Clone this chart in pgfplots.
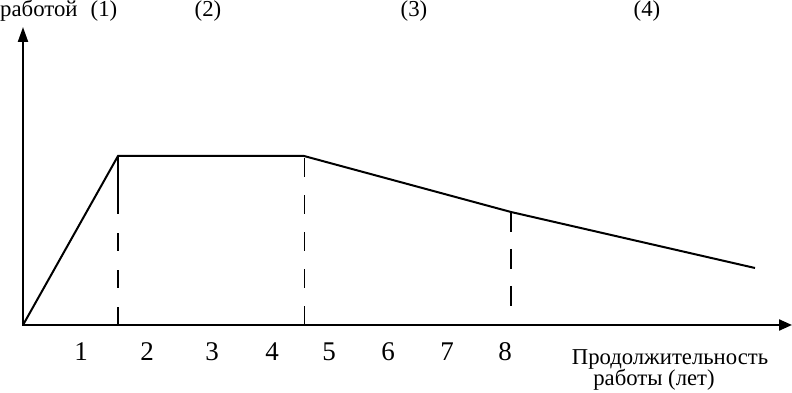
\documentclass[border=0pt]{standalone}
\usepackage{pgfplots}
\pgfplotsset{compat=1.18}
\usetikzlibrary{arrows.meta}
\usepackage{fontspec}
\setmainfont{Liberation Serif}
\begin{document}
\begin{tikzpicture}[x=1pt,y=1pt]
\useasboundingbox (0,0) rectangle (792,393);
\clip (0,0) rectangle (792,393);
\begin{axis}[
  at={(0pt,0pt)}, anchor=south west,
  width=792pt, height=393pt, scale only axis,
  xmin=0, xmax=792, ymin=0, ymax=393,
  axis lines=none, clip=false,
  every axis plot/.append style={black},
]
% axes
\addplot[line width=2.2pt, -{Triangle[length=13pt,width=11pt]}] coordinates {(22,68) (792,68)};
\addplot[line width=2.2pt, -{Triangle[length=15pt,width=10pt]}] coordinates {(23,67) (23,366)};
% curve
\addplot[line width=2pt] coordinates {(23,68) (118,237) (304,237) (511,181) (755,125)};
% dashed verticals
\addplot[line width=2pt, dash pattern=on 18pt off 19pt] coordinates {(118,68) (118,181)};
\addplot[line width=2pt] coordinates {(118,181) (118,237)};
\addplot[line width=1pt, dash pattern=on 19pt off 18pt] coordinates {(304,68) (304,237)};
\addplot[line width=2pt, dash pattern=on 20pt off 17pt] coordinates {(511,181) (511,86)};
% top labels
\node[anchor=base west, font=\fontsize{22.8}{26}\selectfont, inner sep=0pt] at (axis cs:0,376) {работой};
\node[anchor=base, font=\fontsize{22.8}{26}\selectfont, inner sep=0pt] at (axis cs:104,376) {(1)};
\node[anchor=base, font=\fontsize{22.8}{26}\selectfont, inner sep=0pt] at (axis cs:208,376) {(2)};
\node[anchor=base, font=\fontsize{22.8}{26}\selectfont, inner sep=0pt] at (axis cs:414,376) {(3)};
\node[anchor=base, font=\fontsize{22.8}{26}\selectfont, inner sep=0pt] at (axis cs:647,376) {(4)};
% x digits
\foreach \px/\lab in {81/1,147/2,212/3,272/4,329/5,388/6,447/7,505/8}{
  \edef\temp{\noexpand\node[anchor=base, font=\noexpand\fontsize{27}{30}\noexpand\selectfont, inner sep=0pt] at (axis cs:\px,32) {\lab};}
  \temp
}
% x label
\node[anchor=base, font=\fontsize{22.7}{26}\selectfont, inner sep=0pt] at (axis cs:670,28) {Продолжительность};
\node[anchor=base, font=\fontsize{22.7}{26}\selectfont, inner sep=0pt] at (axis cs:654,7) {работы (лет)};
\end{axis}
\end{tikzpicture}
\end{document}
